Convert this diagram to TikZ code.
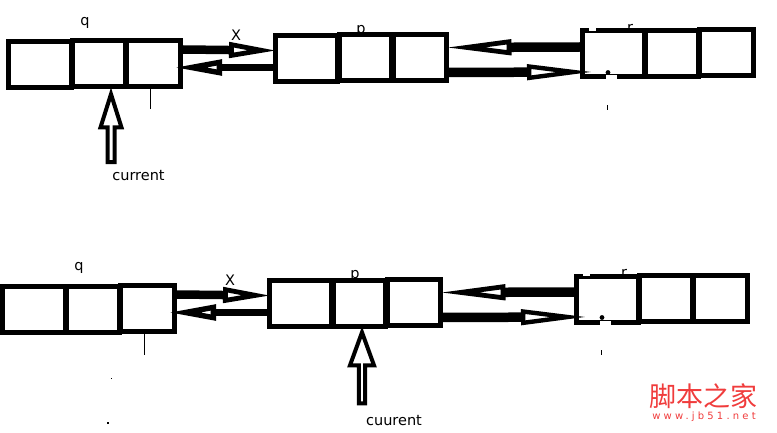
\documentclass[tikz,border=0pt]{standalone}
\usepackage{fontspec}
\setmainfont{DejaVu Sans}
\newfontfamily\cjk{Noto Sans CJK SC}
\usetikzlibrary{arrows.meta,shapes.arrows}
\definecolor{markred}{RGB}{240,60,60}
\begin{document}
\begin{tikzpicture}[x=1pt,y=-1pt]
\tikzset{cell/.style={shape=rectangle,draw=black,fill=white,line width=5pt,inner sep=0pt,minimum width=#1,minimum height=46pt}}
\tikzset{label text/.style={font=\fontsize{14.5}{16}\selectfont,inner sep=0pt}}
\tikzset{bar/.style={line width=#1}}
\tikzset{long tip/.style n args={3}{-{Triangle[open,length=#1,width=15pt,line width=#2]},shorten >=#3}}
\tikzset{pointer/.style={shape=single arrow,draw=black,fill=white,line width=4pt,inner sep=0pt,shape border rotate=90,minimum height=68pt,minimum width=21pt,single arrow head extend=4pt,single arrow tip angle=35,anchor=tip}}
\useasboundingbox (0,0) rectangle (777,433);

% labels under the boxes
\node[label text] at (85,23)    (qa)  {q};
\node[label text] at (236,35)   (xa)  {X};
\node[label text] at (361,30.5) (pa)  {p};
\node[label text] at (630,28)   (ra)  {r};
\node[label text] at (79,268)   (qb)  {q};
\node[label text] at (230,280)  (xb)  {X};
\node[label text] at (355,275.5) (pb) {p};
\node[label text] at (624,273)  (rb)  {r};

\node[cell=63pt] at (40,64.5)     (qa1) {};
\node[cell=53pt] at (99,64)       (qa2) {};
\node[cell=54pt] at (153.5,63.5)  (qa3) {};
\node[cell=62pt] at (306.5,58.5)  (pa1) {};
\node[cell=52pt] at (365,58)      (pa2) {};
\node[cell=53pt] at (419.5,57.5)  (pa3) {};
\node[cell=62pt] at (613.5,54)    (ra1) {};
\node[cell=53pt] at (671.5,53.5)  (ra2) {};
\node[cell=54pt] at (726,53)      (ra3) {};

\node[cell=63pt] at (34,309.5)    (qb1) {};
\node[cell=53pt] at (93,309)      (qb2) {};
\node[cell=54pt] at (147.5,308.5) (qb3) {};
\node[cell=62pt] at (300.5,303.5) (pb1) {};
\node[cell=52pt] at (359,303)     (pb2) {};
\node[cell=53pt] at (413.5,302.5) (pb3) {};
\node[cell=62pt] at (607.5,299)   (rb1) {};
\node[cell=53pt] at (665.5,298.5) (rb2) {};
\node[cell=54pt] at (720,298)     (rb3) {};

\draw[bar=8.5pt,long tip={48pt}{4.8pt}{-4pt}] ([yshift=14pt]qa3.east) -- ([yshift=8pt]pa1.west);
\draw[bar=7pt,long tip={48pt}{5.4pt}{-9pt}] ([yshift=-9pt]pa1.west) -- ([yshift=-4pt]qa3.east);
\draw[bar=9.5pt,long tip={66pt}{4.8pt}{-3pt}] ([yshift=7pt]ra1.west) -- ([yshift=10pt]pa3.east);
\draw[bar=9.5pt,long tip={66pt}{4.4pt}{-13pt}] ([yshift=-15pt]pa3.east) -- ([yshift=-18pt]ra1.west);

\draw[bar=8.5pt,long tip={48pt}{4.8pt}{-4pt}] ([yshift=14pt]qb3.east) -- ([yshift=8pt]pb1.west);
\draw[bar=7pt,long tip={48pt}{5.4pt}{-9pt}] ([yshift=-9pt]pb1.west) -- ([yshift=-4pt]qb3.east);
\draw[bar=9.5pt,long tip={66pt}{4.8pt}{-3pt}] ([yshift=7pt]rb1.west) -- ([yshift=10pt]pb3.east);
\draw[bar=9.5pt,long tip={66pt}{4.4pt}{-13pt}] ([yshift=-15pt]pb3.east) -- ([yshift=-18pt]rb1.west);

\node[pointer] at ([xshift=12pt,yshift=2pt]qa2.south) (ptra) {};
\node[pointer,minimum height=71pt,minimum width=24pt,single arrow head extend=5.5pt,single arrow tip angle=40] at ([xshift=3pt,yshift=2pt]pb2.south) (ptrb) {};
\node[label text,anchor=north] at (138.5,170) (cura) {current};
\node[label text,anchor=north] at (394,415)   (curb) {cuurent};

% stray marks
\draw[line width=1pt] (qa3.south) ++(-3,0) -- ++(0,20);
\draw[line width=1pt] (qb3.south) ++(-3,0) -- ++(0,21);
\fill (608,72.5) circle (2.4);
\fill (602,317.5) circle (2.4);
\fill[white] (606,75.5) rectangle (617,80.5);
\fill[white] (600,320.5) rectangle (611,325.5);
\fill[white] (589,27) rectangle (596,31);
\fill[white] (583,272) rectangle (590,276);
\fill (606.5,105) rectangle (607.5,110);
\fill (600.5,350) rectangle (601.5,355);
\fill (110.5,377.5) rectangle (111.5,378.5);
\fill (107,422) rectangle (108.5,424);

\node[text=markred,font=\cjk\fontsize{27}{30}\selectfont,inner sep=0pt] at (703.5,396) (marka) {脚本之家};
\node[text=markred,font=\fontsize{10}{12}\selectfont\addfontfeature{LetterSpace=32},inner sep=0pt] at (704,417) (markb) {www.jb51.net};
\end{tikzpicture}
\end{document}
